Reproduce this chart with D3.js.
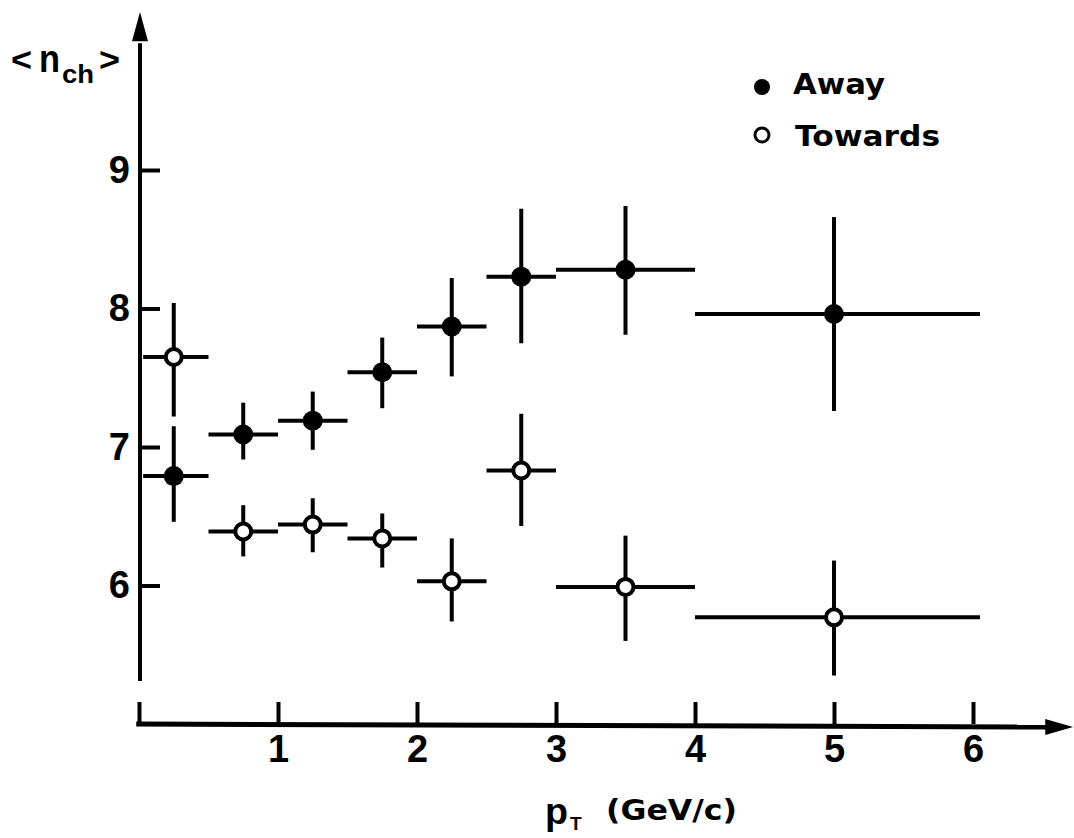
<!DOCTYPE html>
<html>
<head>
<meta charset="utf-8">
<script src="https://cdn.jsdelivr.net/npm/d3@7"></script>
<style>
  html, body { margin: 0; padding: 0; background: #fff; }
  svg { display: block; }
</style>
</head>
<body>
<svg id="chart" width="1074" height="838"></svg>
<script>
// ---- data ----
const binCenter = [0.25, 0.75, 1.25, 1.75, 2.25, 2.75, 3.5, 5.0];
const binLow    = [0.03, 0.5, 1.0, 1.5, 2.0, 2.5, 3.0, 4.0];
const binHigh   = [0.5, 1.0, 1.5, 2.0, 2.5, 3.0, 4.0, 6.05];

const awayValue = [6.79, 7.09, 7.19, 7.54, 7.87, 8.23, 8.28, 7.96];
const awayLow   = [6.46, 6.91, 6.98, 7.28, 7.51, 7.75, 7.81, 7.26];
const awayHigh  = [7.15, 7.32, 7.40, 7.79, 8.22, 8.72, 8.74, 8.66];

const towardsValue = [7.65, 6.39, 6.44, 6.34, 6.03, 6.83, 5.99, 5.77];
const towardsLow   = [7.22, 6.21, 6.24, 6.13, 5.74, 6.43, 5.60, 5.35];
const towardsHigh  = [8.04, 6.58, 6.63, 6.52, 6.34, 7.24, 6.36, 6.18];

const xTickValues = [0, 1, 2, 3, 4, 5, 6];
const yTickValues = [6, 7, 8, 9];
const legendLabels = ["Away", "Towards"];

// ---- scales ----
const svg = d3.select("#chart");
const x = d3.scaleLinear().domain([0, 6]).range([139, 973]);
const y = d3.scaleLinear().domain([5, 9]).range([724, 170]);

const ink = "#000";
const digitFont = "'Liberation Sans', Arial, sans-serif";
const textFont = "'DejaVu Sans', sans-serif";

// ---- axes (ticks inward, custom arrow lines) ----
const xAxis = d3.axisBottom(x)
  .tickValues(xTickValues)
  .tickSize(-22)
  .tickPadding(11)
  .tickFormat(d => d === 0 ? "" : String(d));
const gx = svg.append("g").attr("transform", `translate(0,${y(5)})`).call(xAxis);
gx.select(".domain").remove();
gx.selectAll(".tick line").attr("stroke", ink).attr("stroke-width", 4);
gx.selectAll(".tick text").attr("fill", ink)
  .style("font-family", digitFont).style("font-weight", "bold").style("font-size", "38px");

const yAxis = d3.axisLeft(y)
  .tickValues(yTickValues)
  .tickSize(-20)
  .tickPadding(10)
  .tickFormat(d3.format("d"));
const gy = svg.append("g").attr("transform", `translate(${x(0) + 1},0)`).call(yAxis);
gy.select(".domain").remove();
gy.selectAll(".tick line").attr("stroke", ink).attr("stroke-width", 4);
gy.selectAll(".tick text").attr("fill", ink)
  .style("font-family", digitFont).style("font-weight", "bold").style("font-size", "38px");

// axis lines with arrowheads
const ax0 = x(0) + 1;
const yTop = y(10.14), yArrowBase = y(9.93), yBottom = y(5.31);
svg.append("line").attr("x1", ax0).attr("x2", ax0).attr("y1", yBottom).attr("y2", yArrowBase + 2)
  .attr("stroke", ink).attr("stroke-width", 4);
svg.append("path")
  .attr("d", `M${ax0},${yTop} L${ax0 - 8},${yArrowBase} L${ax0 + 8},${yArrowBase} Z`)
  .attr("fill", ink);

const ay0 = y(5);
const xRight = x(6.72), xArrowBase = x(6.52);
svg.append("line").attr("x1", x(-0.02)).attr("x2", xArrowBase + 2).attr("y1", ay0).attr("y2", ay0 + 3)
  .attr("stroke", ink).attr("stroke-width", 5);
svg.append("path")
  .attr("d", `M${xRight},${ay0 + 3} L${xArrowBase},${ay0 + 3 - 8} L${xArrowBase},${ay0 + 3 + 8} Z`)
  .attr("fill", ink);

// ---- data series ----
function drawSeries(values, lows, highs, filled) {
  const g = svg.append("g");
  const rows = values.map((v, i) => ({
    xc: binCenter[i], xl: binLow[i], xh: binHigh[i], v, lo: lows[i], hi: highs[i]
  }));
  g.selectAll("line.h").data(rows).join("line").attr("class", "h")
    .attr("x1", d => x(d.xl)).attr("x2", d => x(d.xh))
    .attr("y1", d => y(d.v)).attr("y2", d => y(d.v))
    .attr("stroke", ink).attr("stroke-width", 4);
  g.selectAll("line.v").data(rows).join("line").attr("class", "v")
    .attr("x1", d => x(d.xc)).attr("x2", d => x(d.xc))
    .attr("y1", d => y(d.lo)).attr("y2", d => y(d.hi))
    .attr("stroke", ink).attr("stroke-width", 4);
  g.selectAll("circle").data(rows).join("circle")
    .attr("cx", d => x(d.xc)).attr("cy", d => y(d.v))
    .attr("r", filled ? 10 : 8)
    .attr("fill", filled ? ink : "#fff")
    .attr("stroke", ink).attr("stroke-width", filled ? 0 : 4);
}
drawSeries(awayValue, awayLow, awayHigh, true);
drawSeries(towardsValue, towardsLow, towardsHigh, false);

// ---- legend ----
const legend = svg.append("g");
legend.append("circle").attr("cx", 762).attr("cy", 87).attr("r", 8).attr("fill", ink);
legend.append("circle").attr("cx", 762).attr("cy", 135).attr("r", 7)
  .attr("fill", "#fff").attr("stroke", ink).attr("stroke-width", 3);
legend.append("text").attr("x", 793).attr("y", 94).text(legendLabels[0])
  .attr("textLength", 92).attr("lengthAdjust", "spacingAndGlyphs")
  .style("font-family", textFont).style("font-weight", "bold").style("font-size", "28px");
legend.append("text").attr("x", 795).attr("y", 146).text(legendLabels[1])
  .attr("textLength", 145).attr("lengthAdjust", "spacingAndGlyphs")
  .style("font-family", textFont).style("font-weight", "bold").style("font-size", "28px");

// ---- axis titles ----
const yl = svg.append("g").style("font-family", digitFont).style("font-weight", "bold").attr("fill", ink);
yl.append("text").attr("x", 11).attr("y", 71).style("font-size", "34px").text("<")
  .attr("textLength", 21).attr("lengthAdjust", "spacingAndGlyphs");
yl.append("text").attr("x", 39).attr("y", 72).style("font-size", "38px").text("n")
  .attr("textLength", 21).attr("lengthAdjust", "spacingAndGlyphs");
yl.append("text").attr("x", 62).attr("y", 83).style("font-size", "25px").text("ch")
  .attr("textLength", 32).attr("lengthAdjust", "spacingAndGlyphs");
yl.append("text").attr("x", 99).attr("y", 71).style("font-size", "34px").text(">")
  .attr("textLength", 21).attr("lengthAdjust", "spacingAndGlyphs");

const xl = svg.append("g").style("font-weight", "bold").attr("fill", ink);
xl.append("text").attr("x", 545).attr("y", 824).style("font-family", digitFont)
  .style("font-size", "36px").text("p")
  .attr("textLength", 23).attr("lengthAdjust", "spacingAndGlyphs");
xl.append("text").attr("x", 570).attr("y", 830).style("font-family", digitFont)
  .style("font-size", "19px").text("T");
xl.append("text").attr("x", 606).attr("y", 820).style("font-family", textFont)
  .style("font-size", "28px").text("(GeV/c)")
  .attr("textLength", 131).attr("lengthAdjust", "spacingAndGlyphs");
</script>
</body>
</html>
